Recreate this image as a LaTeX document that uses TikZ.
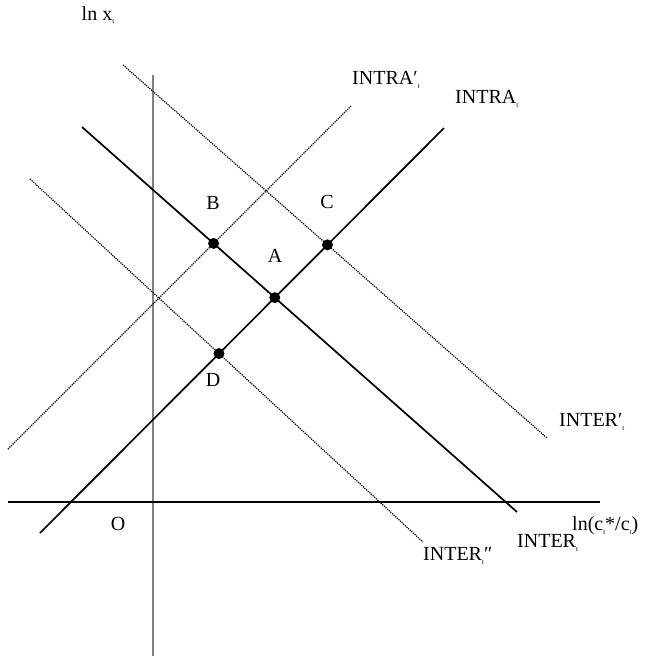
\documentclass[tikz,border=0pt]{standalone}
\usepackage{fontspec}
\setmainfont{Liberation Serif}
\usetikzlibrary{intersections}
\newcommand{\tsub}{\raisebox{-0.4ex}{\fontsize{7}{7}\selectfont t}}

\begin{document}
\begin{tikzpicture}[x=1pt, y=-1pt,
  every node/.style={font=\fontsize{20}{24}\selectfont, inner sep=0pt},
  schedule/.style={line width=1.7pt, black},
  shifted/.style={line width=1.2pt, densely dotted, black},
  axis/.style={line width=1.6pt},
  dot/.style={circle, fill=black, minimum size=11pt, inner sep=0pt}]
\useasboundingbox (0,0) rectangle (648,657);

% Axes
\draw [axis, gray] (153,75) -- (153,656);
\draw [axis] (8,502) -- (600,502);

% Schedules
\draw [schedule, name path=intra] (40,533) -- (444,128);
\draw [schedule, name path=inter] (82,127) -- (517,512);
\draw [shifted, name path=intrap] (8,449) -- (351,106);
\draw [shifted, name path=interp] (123,65) -- (547,438);
\draw [shifted, name path=interpp] (30,179) -- (423,542);

% Equilibria
\path [name intersections={of=intra and inter, by=a}];
\path [name intersections={of=intrap and inter, by=b}];
\path [name intersections={of=intra and interp, by=c}];
\path [name intersections={of=intra and interpp, by=d}];
\node (ptA) [dot] at (a) {};
\node (ptB) [dot] at (b) {};
\node (ptC) [dot] at (c) {};
\node (ptD) [dot] at (d) {};

% Point labels
\node (lblA) at (275,256) {A};
\node (lblB) at (213,203) {B};
\node (lblC) at (327,202) {C};
\node (lblD) at (213,380) {D};
\node (lblO) at (118,524) {O};

% Axis and schedule labels
\node (ylab) at (98,15) {ln x\tsub};
\node (xlab) [anchor=west] at (572,526) {ln(c\tsub*/c\tsub)};
\node (intraplab) [anchor=west] at (352,80) {INTRA′\tsub};
\node (intralab) [anchor=west] at (455,99) {INTRA\tsub};
\node (interplab) [anchor=west] at (559,422) {INTER′\tsub};
\node (interlab) [anchor=west] at (517,543) {INTER\tsub};
\node (interpplab) [anchor=west] at (423,556) {INTER\tsub″};
\end{tikzpicture}
\end{document}
